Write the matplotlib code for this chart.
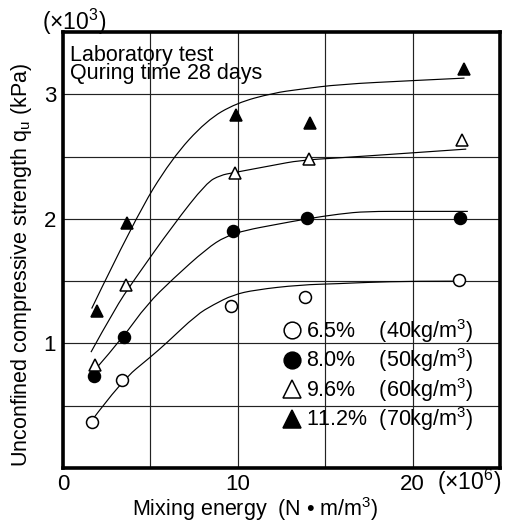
import matplotlib
matplotlib.use('Agg')
import matplotlib.pyplot as plt
from matplotlib.path import Path
from matplotlib.patches import PathPatch

plt.rcParams['font.family'] = ['Liberation Sans', 'DejaVu Sans']
plt.rcParams['mathtext.fontset'] = 'custom'
plt.rcParams['mathtext.rm'] = 'Liberation Sans'
plt.rcParams['mathtext.it'] = 'Liberation Sans:italic'
plt.rcParams['mathtext.bf'] = 'Liberation Sans:bold'

# ---------------- data (x: mixing energy x10^6 N*m/m3, y: qu x10^3 kPa) --------------
pct_labels = ['6.5%', '8.0%', '9.6%', '11.2%']
dens_labels = ['(40kg/m$^3$)', '(50kg/m$^3$)', '(60kg/m$^3$)', '(70kg/m$^3$)']

x_65 = [1.64, 3.39, 9.60, 13.87, 22.63]
y_65 = [0.37, 0.71, 1.30, 1.37, 1.51]
x_80 = [1.75, 3.49, 9.73, 13.94, 22.70]
y_80 = [0.74, 1.05, 1.90, 2.01, 2.01]
x_96 = [1.85, 3.58, 9.85, 14.08, 22.82]
y_96 = [0.83, 1.47, 2.37, 2.48, 2.63]
x_112 = [1.94, 3.64, 9.90, 14.13, 22.93]
y_112 = [1.26, 1.97, 2.83, 2.77, 3.20]

# hand-drawn trend curves
cx_65 = [1.64, 3.35, 5.0, 5.9, 7.64, 8.59, 9.73, 11.0, 13.54, 15.83, 17.35, 20.0, 22.9]
cy_65 = [0.38, 0.70, 0.89, 1.00, 1.23, 1.31, 1.39, 1.43, 1.47, 1.48, 1.49, 1.50, 1.50]
cx_80 = [1.9, 3.45, 4.78, 6.3, 8.21, 9.3, 10.5, 12.0, 13.93, 15.83, 17.35, 20.0, 23.16]
cy_80 = [0.80, 1.05, 1.31, 1.52, 1.76, 1.86, 1.91, 1.95, 2.00, 2.04, 2.06, 2.06, 2.06]
cx_96 = [1.6, 2.97, 4.02, 6.3, 8.21, 9.0, 9.73, 12.02, 13.54, 15.83, 20.0, 23.07]
cy_96 = [0.93, 1.28, 1.50, 1.95, 2.29, 2.35, 2.37, 2.43, 2.47, 2.49, 2.53, 2.56]
cx_112 = [1.64, 4.11, 6.2, 8.21, 9.92, 12.02, 13.54, 15.83, 20.0, 22.97]
cy_112 = [1.28, 2.00, 2.48, 2.79, 2.93, 3.01, 3.04, 3.08, 3.11, 3.13]

x_ticks = [0, 10, 20]
x_minor = [5, 15]
y_ticks = [1, 2, 3]
y_minor = [0.5, 1.5, 2.5]
x_lim = (0, 25)
y_lim = (0, 3.5)

note_lines = ['Laboratory test', 'Quring time 28 days']

FS = 15.5


def smooth_path(xs, ys):
    pts = list(zip(xs, ys))
    n = len(pts)
    verts = [pts[0]]
    codes = [Path.MOVETO]
    for i in range(1, n - 1):
        if i < n - 2:
            end = ((pts[i][0] + pts[i + 1][0]) / 2, (pts[i][1] + pts[i + 1][1]) / 2)
        else:
            end = pts[n - 1]
        verts += [pts[i], end]
        codes += [Path.CURVE3, Path.CURVE3]
    return Path(verts, codes)


fig = plt.figure(figsize=(5.05, 5.25), dpi=100)
ax = fig.add_axes([63 / 505, 57 / 525, 437 / 505, 436 / 525])
ax.set_xlim(*x_lim)
ax.set_ylim(*y_lim)

ax.set_xticks(x_ticks)
ax.set_xticks(x_minor, minor=True)
ax.set_yticks(y_ticks)
ax.set_yticks(y_minor, minor=True)
ax.set_xticklabels([str(t) for t in x_ticks])
ax.set_yticklabels([str(t) for t in y_ticks])
ax.tick_params(which='both', length=0, labelsize=16)
ax.tick_params(axis='x', pad=4)
ax.tick_params(axis='y', pad=5)
ax.grid(True, which='both', color='#222222', linewidth=0.85, zorder=0)
ax.set_axisbelow(True)
for s in ax.spines.values():
    s.set_linewidth(2.6)
    s.set_color('black')

# curves
for cx, cy in [(cx_65, cy_65), (cx_80, cy_80), (cx_96, cy_96), (cx_112, cy_112)]:
    ax.add_patch(PathPatch(smooth_path(cx, cy), facecolor='none', edgecolor='black',
                           linewidth=0.85, zorder=2))

# markers
styles = [
    dict(marker='o', mfc='white', mec='black', ms=8.6, mew=1.1),
    dict(marker='o', mfc='black', mec='black', ms=8.6, mew=1.1),
    dict(marker='^', mfc='white', mec='black', ms=9.0, mew=1.1),
    dict(marker='^', mfc='black', mec='black', ms=9.0, mew=1.1),
]
handles = []
for (xs, ys), st in zip([(x_65, y_65), (x_80, y_80), (x_96, y_96), (x_112, y_112)], styles):
    h, = ax.plot(xs, ys, linestyle='none', zorder=3, clip_on=False, **st)
    handles.append(h)

labels = []
for p, d in zip(pct_labels, dens_labels):
    sep = '  ' if len(p) > 4 else '    '
    labels.append(p + sep + d)

leg = ax.legend(handles, labels, loc='center left',
                bbox_to_anchor=((283.5 - 63) / 437, (468 - 375) / 436),
                frameon=False, fontsize=FS, markerscale=1.4, handlelength=0.8,
                handletextpad=0.25, labelspacing=0.08, borderpad=0, borderaxespad=0)

# texts
ax.text(0.016, 0.971, '\n'.join(note_lines), transform=ax.transAxes, fontsize=FS,
        ha='left', va='top', linespacing=0.82)
ax.text(-0.048, 1.0046, '(×10$^3$)', transform=ax.transAxes, fontsize=16.5,
        ha='left', va='baseline')
ax.text(0.856, -0.0505, '(×10$^6$)', transform=ax.transAxes, fontsize=16.5,
        ha='left', va='baseline')

ax.set_xlabel('Mixing energy  (N • m/m$^3$)', fontsize=FS)
ax.xaxis.set_label_coords(0.439, -0.062)
ax.set_ylabel('Unconfined compressive strength q$_\\mathrm{u}$ (kPa)', fontsize=FS)
ax.yaxis.set_label_coords(-0.066, 0.466)

fig.savefig('out.png', dpi=100)
